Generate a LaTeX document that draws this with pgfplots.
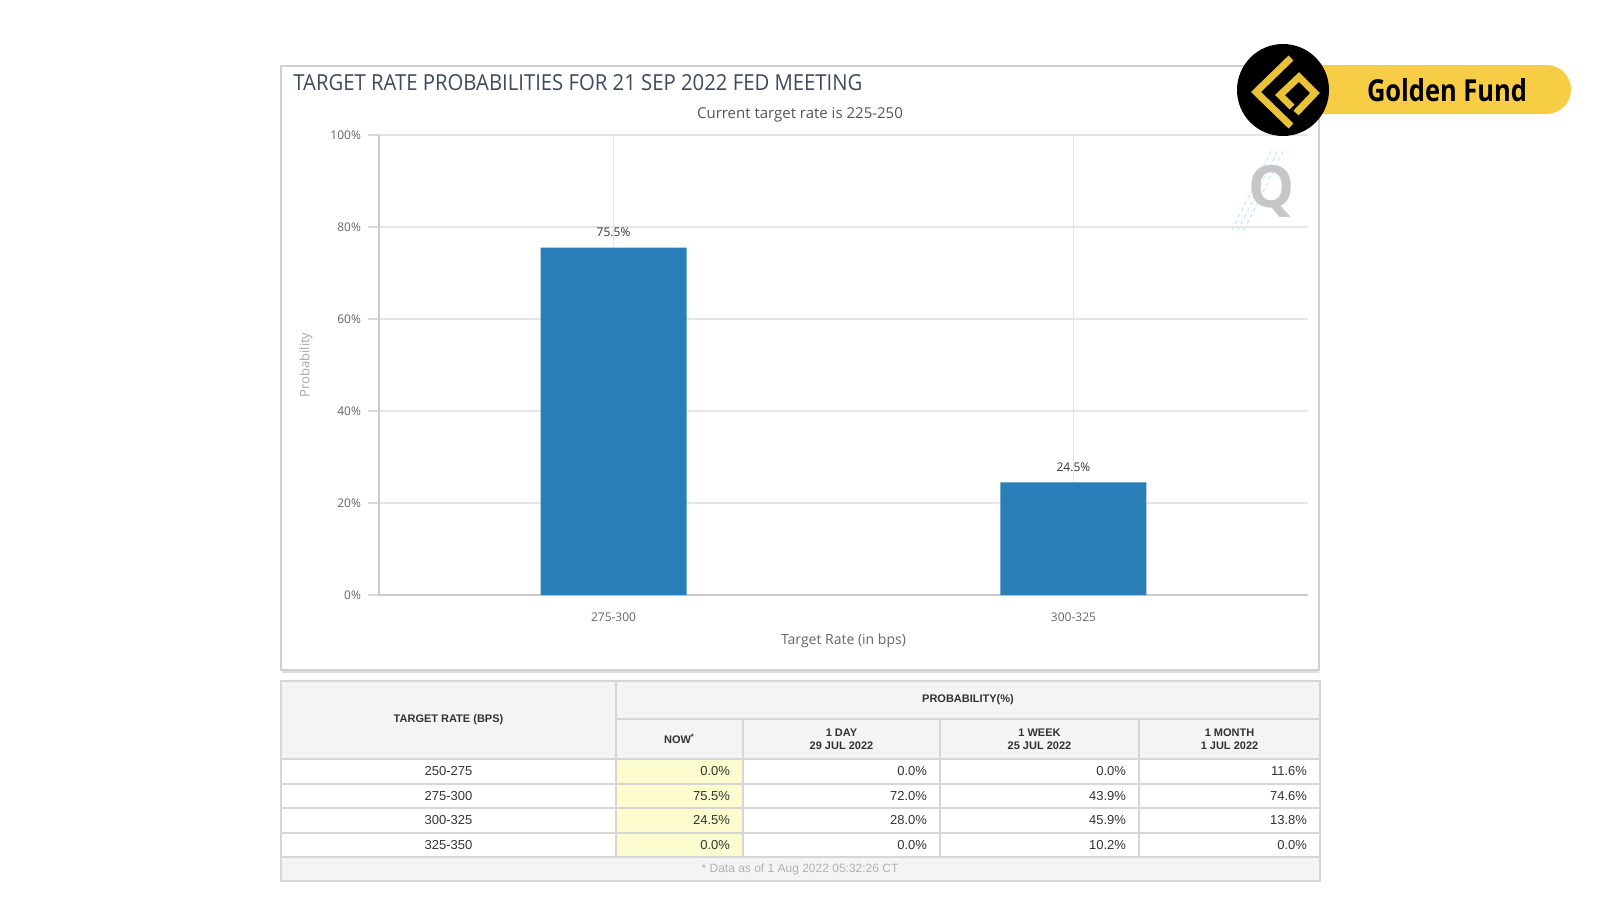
\documentclass[border=0pt]{standalone}
\usepackage{pgfplots}
\pgfplotsset{compat=1.18}
\usepackage{fontspec}
\setmainfont{Open Sans}
\newfontfamily\tabfont{Liberation Sans}
\newfontfamily\logofont{Open Sans}
\usepackage{graphicx}
\definecolor{barblue}{HTML}{2A7EB8}
\definecolor{titlecol}{HTML}{3E4A5E}
\definecolor{subcol}{HTML}{555555}
\definecolor{tickcol}{HTML}{666666}
\definecolor{gridcol}{HTML}{E6E6E6}
\definecolor{panelcol}{HTML}{D0D0D0}
\definecolor{hdrbg}{HTML}{F4F4F4}
\definecolor{nowbg}{HTML}{FCFCCF}
\definecolor{tabline}{HTML}{D6D6D6}
\definecolor{tabtext}{HTML}{333333}
\definecolor{gfyellow}{HTML}{F6CD45}
\definecolor{gfgold}{HTML}{E9C23A}
\newcommand\hdr{\tabfont\bfseries\fontsize{5.5}{6.5}\selectfont}
\newcommand\cell{\tabfont\fontsize{6.5}{7.5}\selectfont}
\begin{document}
\begin{tikzpicture}[x=0.5pt,y=-0.5pt]
\fill[white] (0,0) rectangle (1600,900);
% panel
\draw[panelcol, line width=0.8pt] (281,66) rectangle (1319,670);
\draw[panelcol!70, line width=1pt] (282,672) -- (1319,672);
% title and subtitle
\node[anchor=west, inner sep=0pt, text=titlecol] at (293,83)
  {\resizebox{284.5pt}{8pt}{TARGET RATE PROBABILITIES FOR 21 SEP 2022 FED MEETING}};
\node[text=subcol, font=\fontsize{7.5}{8.5}\selectfont] at (800,115) {Current target rate is 225-250};
% watermark
\foreach \d in {0,6,12}{
  \draw[cyan!25, line width=0.5pt, dash pattern=on 2pt off 1.5pt] (1232+\d,230) -- (1272+\d,150);
}
\node[text=gray!45, font=\bfseries\fontsize{29}{30}\selectfont] at (1272,191) {Q};
\begin{axis}[
  at={(189.5pt,-297.5pt)}, anchor=south west,
  scale only axis, width=464.5pt, height=230pt,
  xmin=-0.51, xmax=1.51, ymin=0, ymax=100,
  xtick={0,1}, xticklabels={275-300,300-325},
  ytick={0,20,40,60,80,100},
  yticklabel={\pgfmathprintnumber{\tick}\%},
  /pgf/number format/assume math mode=true,
  ymajorgrids, xmajorgrids,
  grid style={draw=gridcol, line width=0.6pt},
  axis x line=bottom, axis y line=left,
  axis line style={draw=gray!40, line width=0.6pt, -},
  every outer x axis line/.append style={-},
  every outer y axis line/.append style={-},
  x tick style={draw=none},
  y tick style={draw=gray!30, line width=0.6pt},
  tick align=outside, major tick length=5.5pt,
  ticklabel style={font=\fontsize{6}{7}\selectfont, text=tickcol},
  every axis x label/.style={at={(axis description cs:0.5,-0.1)}, anchor=center,
     font=\fontsize{7}{8}\selectfont, text=tickcol},
  every axis y label/.style={at={(axis description cs:-0.0786,0.5)}, anchor=center, rotate=90,
     font=\fontsize{6.5}{8}\selectfont, text=gray!70},
  xlabel={Target Rate (in bps)}, ylabel={Probability},
  ybar, bar width=73pt, bar shift=0pt,
  nodes near coords={\pgfmathprintnumber[fixed,precision=1,fixed zerofill]{\pgfplotspointmeta}\%},
  every node near coord/.style={font=\fontsize{6}{7}\selectfont, text=black!80, anchor=south, yshift=2pt},
  clip=false,
]
\addplot[fill=barblue, draw=none] coordinates {(0,75.5) (1,24.5)};
\end{axis}
% ---------- table ----------
\fill[hdrbg] (281,681) rectangle (1320,759);
\fill[nowbg] (616,759) rectangle (743,857);
\fill[hdrbg] (281,857) rectangle (1320,881);
\begin{scope}[tabline, line width=0.6pt]
\foreach \yy in {759,784,808,833,857}{ \draw (281,\yy) -- (1320,\yy); }
\draw (616,719) -- (1320,719);
\draw (281,681) rectangle (1320,881);
\draw (616,681) -- (616,857);
\foreach \xx in {743,940,1139}{ \draw (\xx,719) -- (\xx,857); }
\end{scope}
\node[text=tabtext, font=\hdr] at (448.5,720) {TARGET RATE (BPS)};
\node[text=tabtext, font=\hdr] at (968,700) {PROBABILITY(\%)};
\node[text=tabtext, font=\hdr] at (679.5,739) {NOW\textsuperscript{*}};
\node[text=tabtext, font=\hdr, align=center] at (841.5,739) {1 DAY\\29 JUL 2022};
\node[text=tabtext, font=\hdr, align=center] at (1039.5,739) {1 WEEK\\25 JUL 2022};
\node[text=tabtext, font=\hdr, align=center] at (1229.5,739) {1 MONTH\\1 JUL 2022};
\foreach \yy/\lab/\a/\b/\c/\d in {
  771.5/250-275/0.0/0.0/0.0/11.6,
  796/275-300/75.5/72.0/43.9/74.6,
  820.5/300-325/24.5/28.0/45.9/13.8,
  845/325-350/0.0/0.0/10.2/0.0}{
  \node[text=tabtext, font=\cell] at (448.5,\yy) {\lab};
  \node[text=tabtext, font=\cell, anchor=east] at (737,\yy) {\a\%};
  \node[text=tabtext, font=\cell, anchor=east] at (934,\yy) {\b\%};
  \node[text=tabtext, font=\cell, anchor=east] at (1133,\yy) {\c\%};
  \node[text=tabtext, font=\cell, anchor=east] at (1314,\yy) {\d\%};
}
\node[text=gray!60, font=\tabfont\fontsize{6}{7}\selectfont] at (800,869) {* Data as of 1 Aug 2022 05:32:26 CT};
% ---------- logo ----------
\fill[gfyellow, rounded corners=12.25pt] (1270,65) rectangle (1571,114);
\fill[black] (1283,90) circle[radius=46];
\draw[gfgold, line width=3.5pt, line join=miter] (1291,58) -- (1256,92) -- (1291,126);
\draw[gfgold, line width=3.5pt, line join=miter] (1296,113) -- (1315,93) -- (1299,77) -- (1280,95) -- (1292,107);
\node[text=black, font=\logofont\bfseries] at (1447,90) {\resizebox{80pt}{11.5pt}{Golden Fund}};
\end{tikzpicture}
\end{document}
